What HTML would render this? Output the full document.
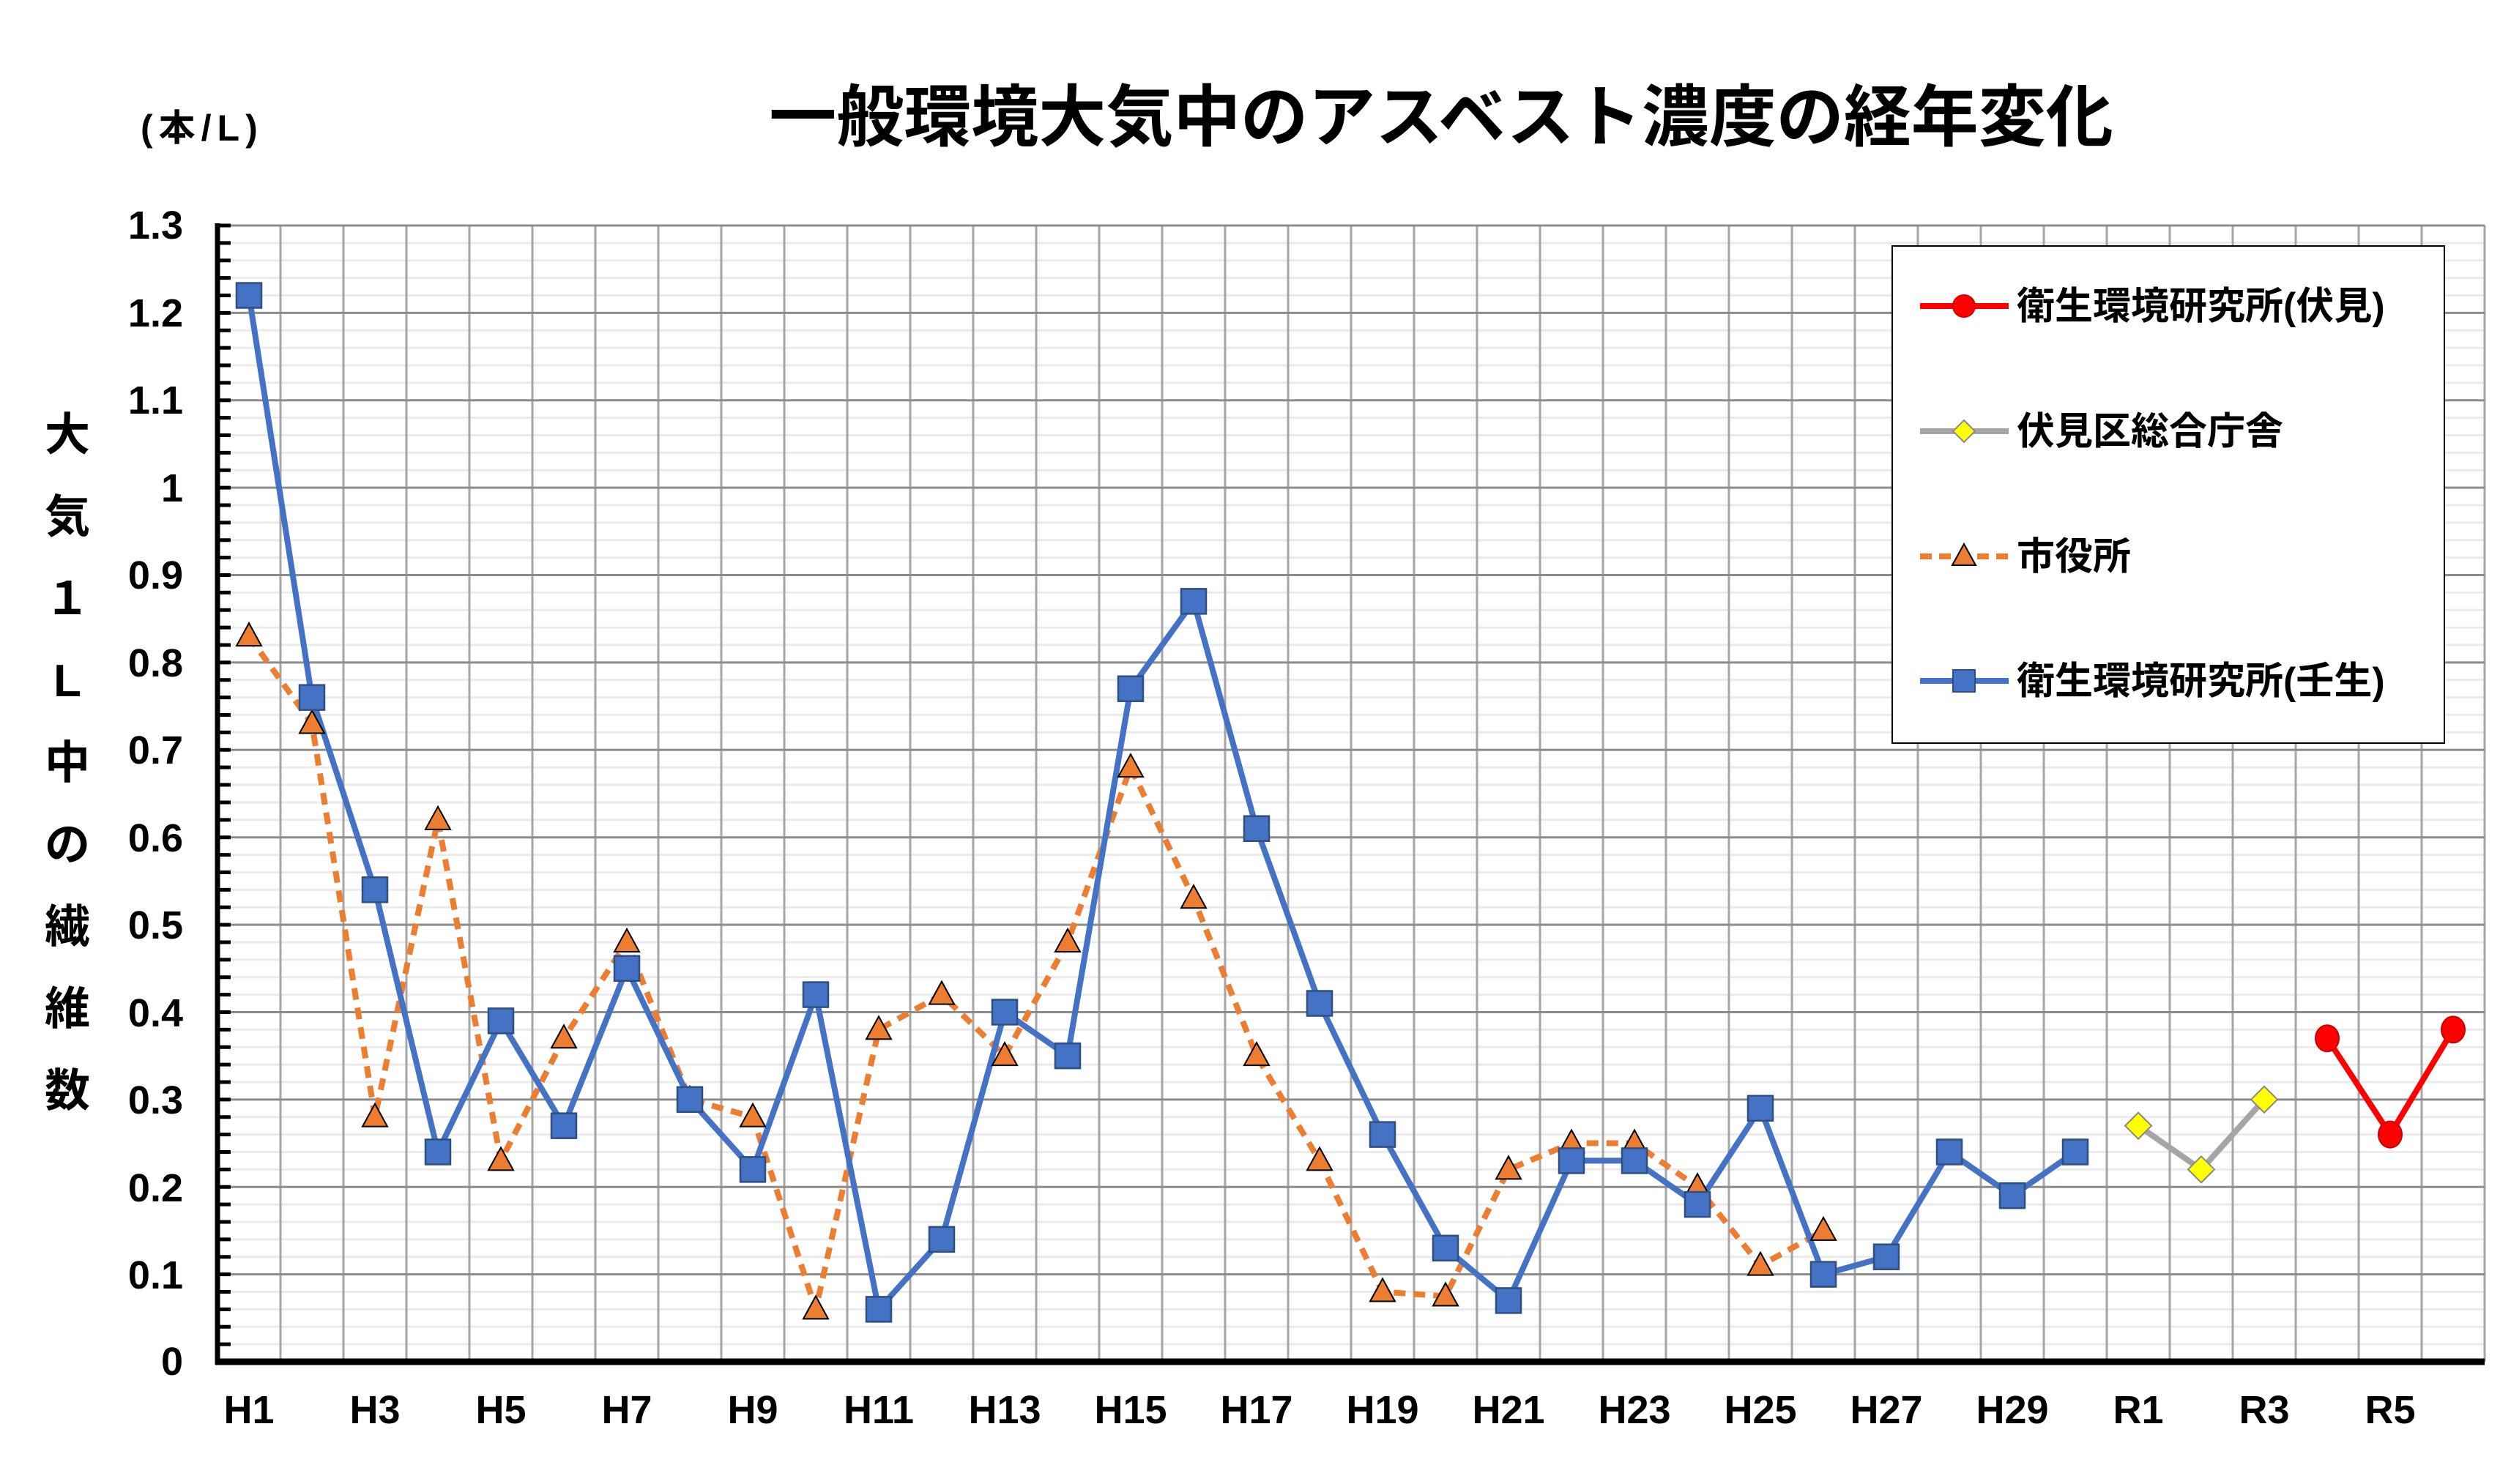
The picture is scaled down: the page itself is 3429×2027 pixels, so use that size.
<!DOCTYPE html>
<html><head><meta charset="utf-8"><style>
html,body{margin:0;padding:0;background:#fff;}
svg{display:block;}
text{font-family:"Liberation Sans","Noto Sans CJK JP",sans-serif;font-weight:bold;fill:#000;}
</style></head><body>
<svg id="c" width="3429" height="2027" viewBox="0 0 3429 2027" xmlns="http://www.w3.org/2000/svg">
<g id="grid"></g>
<g id="series"></g>
<text x="1968" y="192" font-size="92" text-anchor="middle">一般環境大気中のアスベスト濃度の経年変化</text>
<text x="192" y="192" font-size="50" letter-spacing="8">(本/L)</text>
<g font-size="62" text-anchor="middle">
<text x="92" y="615">大</text><text x="92" y="727">気</text><text x="92" y="839">１</text><text x="92" y="951">L</text><text x="92" y="1063">中</text><text x="92" y="1175">の</text><text x="92" y="1287">繊</text><text x="92" y="1399">維</text><text x="92" y="1511">数</text>
</g>
<g font-size="54" text-anchor="end">
<text x="250" y="326">1.3</text><text x="250" y="446">1.2</text><text x="250" y="565">1.1</text><text x="250" y="685">1</text><text x="250" y="804">0.9</text><text x="250" y="924">0.8</text><text x="250" y="1043">0.7</text><text x="250" y="1163">0.6</text><text x="250" y="1282">0.5</text><text x="250" y="1402">0.4</text><text x="250" y="1521">0.3</text><text x="250" y="1641">0.2</text><text x="250" y="1760">0.1</text><text x="250" y="1878">0</text>
</g>
<g font-size="54" text-anchor="middle">
<text x="340" y="1944">H1</text><text x="512" y="1944">H3</text><text x="684" y="1944">H5</text><text x="856" y="1944">H7</text><text x="1028" y="1944">H9</text><text x="1200" y="1944">H11</text><text x="1372" y="1944">H13</text><text x="1544" y="1944">H15</text><text x="1716" y="1944">H17</text><text x="1888" y="1944">H19</text><text x="2060" y="1944">H21</text><text x="2232" y="1944">H23</text><text x="2404" y="1944">H25</text><text x="2576" y="1944">H27</text><text x="2748" y="1944">H29</text><text x="2920" y="1944">R1</text><text x="3092" y="1944">R3</text><text x="3264" y="1944">R5</text>
</g>
<g transform="translate(-14,0)">
<rect x="2598" y="336" width="754" height="679" fill="#fff" stroke="#000" stroke-width="2"/>
<g font-size="52">
<line x1="2636" y1="418" x2="2757" y2="418" stroke="#ff0000" stroke-width="8"/><circle cx="2696" cy="418" r="15" fill="#ff0000" stroke="#d00" stroke-width="2"/>
<text x="2768" y="436">衛生環境研究所(伏見)</text>
<line x1="2636" y1="589" x2="2757" y2="589" stroke="#a5a5a5" stroke-width="8"/><polygon points="2696,574 2711,589 2696,604 2681,589" fill="#ffff00" stroke="#888" stroke-width="2"/>
<text x="2768" y="607">伏見区総合庁舎</text>
<line x1="2636" y1="760" x2="2757" y2="760" stroke="#ed7d31" stroke-width="8" stroke-dasharray="16 10"/><polygon points="2696,743 2712,772 2680,772" fill="#ed7d31" stroke="#000" stroke-width="2"/>
<text x="2768" y="778">市役所</text>
<line x1="2636" y1="930" x2="2757" y2="930" stroke="#4472c4" stroke-width="8"/><rect x="2681" y="915" width="30" height="30" fill="#4472c4" stroke="#2f4f80" stroke-width="2"/>
<text x="2768" y="948">衛生環境研究所(壬生)</text>
</g>
</g>
</svg>
<script>
(function(){
var NS="http://www.w3.org/2000/svg";
var L=297,R=3393,T=308,B=1860,N=36,cw=(R-L)/N,sc=(B-T)/1.3;
function X(i){return L+cw*(i+0.5);}function Y(v){return B-v*sc;}
function el(p,n,a){var e=document.createElementNS(NS,n);for(var k in a)e.setAttribute(k,a[k]);p.appendChild(e);return e;}
var g=document.getElementById('grid');
for(var k=1;k<65;k++){var y=B-k*0.02*sc;if(k%5)el(g,'line',{x1:L,x2:R,y1:y,y2:y,stroke:'#ebebeb','stroke-width':3});}
for(var i=1;i<=N;i++){var x=L+cw*i;el(g,'line',{x1:x,x2:x,y1:T,y2:B,stroke:'#a6a6a6','stroke-width':3});}
for(var k=1;k<=13;k++){var y=B-k*0.1*sc;el(g,'line',{x1:L,x2:R,y1:y,y2:y,stroke:'#8c8c8c','stroke-width':3});}
for(var k=0;k<=65;k++){var y=B-k*0.02*sc;el(g,'line',{x1:L,x2:L+18,y1:y,y2:y,stroke:'#000','stroke-width':5});}
el(g,'line',{x1:L,x2:L,y1:T-3,y2:B+4,stroke:'#000','stroke-width':7});
el(g,'line',{x1:L-3,x2:R,y1:B,y2:B,stroke:'#000','stroke-width':9});
var s=document.getElementById('series');
function pts(st,vals){return vals.map(function(v,j){return X(st+j).toFixed(1)+','+Y(v).toFixed(1);}).join(' ');}
var blue=[1.22,0.76,0.54,0.24,0.39,0.27,0.45,0.30,0.22,0.42,0.06,0.14,0.40,0.35,0.77,0.87,0.61,0.41,0.26,0.13,0.07,0.23,0.23,0.18,0.29,0.10,0.12,0.24,0.19,0.24];
var orange=[0.83,0.73,0.28,0.62,0.23,0.37,0.48,0.30,0.28,0.06,0.38,0.42,0.35,0.48,0.68,0.53,0.35,0.23,0.08,0.075,0.22,0.25,0.25,0.20,0.11,0.15];
var gray=[0.27,0.22,0.30],red=[0.37,0.26,0.38];
el(s,'polyline',{points:pts(0,orange),fill:'none',stroke:'#ed7d31','stroke-width':8,'stroke-dasharray':'16 11'});
el(s,'polyline',{points:pts(0,blue),fill:'none',stroke:'#4472c4','stroke-width':8,'stroke-linejoin':'round'});
el(s,'polyline',{points:pts(30,gray),fill:'none',stroke:'#a5a5a5','stroke-width':8});
el(s,'polyline',{points:pts(33,red),fill:'none',stroke:'#ff0000','stroke-width':8});
orange.forEach(function(v,j){var x=X(j),y=Y(v);el(s,'polygon',{points:x+','+(y-18)+' '+(x+17)+','+(y+13)+' '+(x-17)+','+(y+13),fill:'#ed7d31',stroke:'#000','stroke-width':2});});
blue.forEach(function(v,j){var x=X(j),y=Y(v);el(s,'rect',{x:x-17,y:y-17,width:34,height:34,fill:'#4472c4',stroke:'#2f4f80','stroke-width':2.5});});
gray.forEach(function(v,j){var x=X(30+j),y=Y(v);el(s,'polygon',{points:x+','+(y-18)+' '+(x+18)+','+y+' '+x+','+(y+18)+' '+(x-18)+','+y,fill:'#ffff00',stroke:'#888','stroke-width':2});});
red.forEach(function(v,j){var x=X(33+j),y=Y(v);el(s,'ellipse',{cx:x,cy:y,rx:16,ry:18,fill:'#ff0000',stroke:'#c00','stroke-width':2});});
})();
</script>
</body></html>
